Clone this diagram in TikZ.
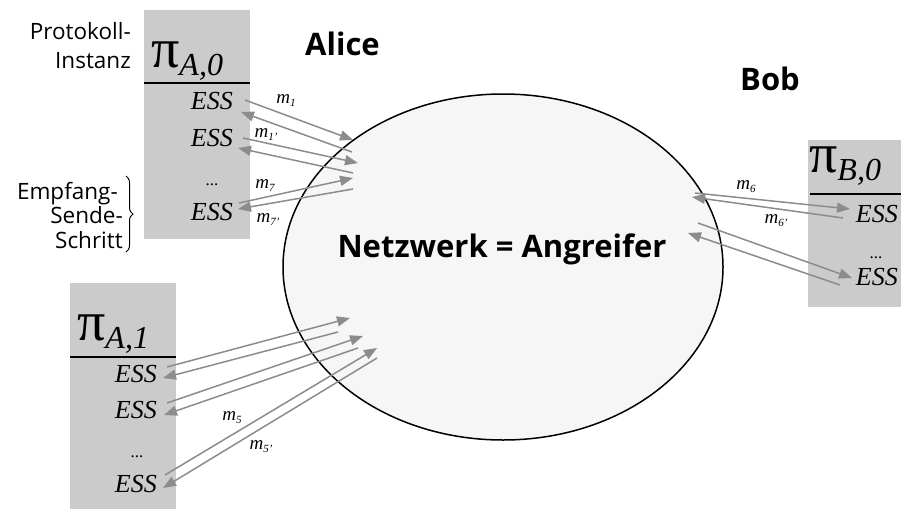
\documentclass[tikz,border=0pt]{standalone}
\usepackage{fontspec}
\setmainfont{Liberation Serif}
\newfontfamily\labelfont{Open Sans}
\usetikzlibrary{arrows.meta,decorations.pathreplacing,shapes.geometric}
\definecolor{boxgray}{HTML}{CBCBCB}
\definecolor{arrgray}{HTML}{8C8C8C}
\definecolor{netfill}{HTML}{F6F6F6}
\tikzset{
  inst/.style={fill=boxgray, draw=none, inner sep=0pt, anchor=north west},
  sepline/.style={line width=1.5pt},
  pilabel/.style={inner sep=0pt, anchor=base west},
  ess/.style={font=\fontsize{26}{26}\selectfont\itshape, inner sep=0pt, anchor=base east},
  essdots/.style={font=\fontsize{17}{17}\selectfont, inner sep=0pt, anchor=base},
  msg/.style={draw=arrgray, line width=1.5pt, -{Triangle[length=13pt,width=10pt]}, fill=arrgray},
  mlab/.style={font=\fontsize{19}{19}\selectfont\itshape, inner sep=0pt, anchor=center},
  side/.style={font=\labelfont\fontsize{22.5}{22.5}\selectfont, inner sep=0pt, anchor=base east},
  party/.style={font=\labelfont\bfseries\fontsize{31}{31}\selectfont, inner sep=0pt, anchor=base west},
}
\newcommand{\PiSub}[1]{{\fontsize{56}{56}\selectfont π}\raisebox{-8pt}{\fontsize{32}{32}\selectfont\itshape #1}}
\newcommand{\MSub}[1]{m{\fontsize{11}{11}\selectfont\raisebox{-3pt}{#1}}}
\begin{document}
\begin{tikzpicture}[x=1pt,y=-1pt]
\useasboundingbox (0,0) rectangle (901,509);

% instance boxes
\node (boxA0) [inst, minimum width=106pt, minimum height=229pt] at (144,10) {};
\node (boxA1) [inst, minimum width=106pt, minimum height=226pt] at (70,283) {};
\node (boxB0) [inst, minimum width=93pt, minimum height=167pt] at (808,140) {};

\draw[sepline] (144,83) -- (250,83);
\draw[sepline] (70,357) -- (176,357);
\draw[sepline] (810,194) -- (901,194);

\node (piA0) [pilabel] at (151,67) {\PiSub{A,0}};
\node (piA1) [pilabel] at (77,340) {\PiSub{A,1}};
\node (piB0) [pilabel] at (809,172) {\PiSub{B,0}};

% ESS entries
\node (ea1) [ess] at (233,109) {ESS};
\node (ea2) [ess] at (233,146) {ESS};
\node (eadots) [essdots] at (212,185) {...};
\node (ea3) [ess] at (233,220) {ESS};

\node (eb1) [ess] at (157,382) {ESS};
\node (eb2) [ess] at (157,418) {ESS};
\node (ebdots) [essdots] at (137,457) {...};
\node (eb3) [ess] at (157,492) {ESS};

\node (ec1) [ess] at (898,222) {ESS};
\node (ecdots) [essdots] at (876,258) {...};
\node (ec3) [ess] at (898,285) {ESS};

% network
\node (net) [ellipse, draw, fill=netfill, line width=1.5pt, minimum width=440pt, minimum height=346pt, inner sep=0pt] at (503,267) {};
\node (nettext) [font=\labelfont\bfseries\fontsize{31}{31}\selectfont, inner sep=0pt, anchor=base] at (502,257) {Netzwerk = Angreifer};

\node (alice) [party] at (305,55) {Alice};
\node (bob) [party] at (740,90) {Bob};

% side labels
\node (prot1) [side] at (131,39) {Protokoll-};
\node (prot2) [side] at (131,68) {Instanz};
\node (ess1) [side] at (118,199) {Empfang-};
\node (ess2) [side] at (123,223) {Sende-};
\node (ess3) [side] at (123,248) {Schritt};
\draw[decorate, decoration={brace, amplitude=7pt}, line width=1pt] (126,176) -- (126,252);

% arrow end points
\coordinate (a1s) at (245,100); \coordinate (a1e) at (353,140);
\coordinate (b1s) at (352,152); \coordinate (b1e) at (241,112);
\coordinate (a2s) at (243,138); \coordinate (a2e) at (358,163);
\coordinate (b2s) at (353,173); \coordinate (b2e) at (238,148);
\coordinate (a3s) at (239,203); \coordinate (a3e) at (353,178);
\coordinate (b3s) at (353,189); \coordinate (b3e) at (238,209);

\coordinate (c1s) at (167,367); \coordinate (c1e) at (350,318);
\coordinate (d1s) at (338,332); \coordinate (d1e) at (163,378);
\coordinate (c2s) at (167,403); \coordinate (c2e) at (363,336);
\coordinate (d2s) at (358,348); \coordinate (d2e) at (164,415);
\coordinate (c3s) at (165,475); \coordinate (c3e) at (377,348);
\coordinate (d3s) at (377,358); \coordinate (d3e) at (163,488);

\coordinate (e1s) at (695,193); \coordinate (e1e) at (850,209);
\coordinate (f1s) at (843,218); \coordinate (f1e) at (692,197);
\coordinate (e2s) at (698,223); \coordinate (e2e) at (852,278);
\coordinate (f2s) at (840,285); \coordinate (f2e) at (688,233);

\foreach \s/\e in {a1s/a1e,b1s/b1e,a2s/a2e,b2s/b2e,a3s/a3e,b3s/b3e,
                   c1s/c1e,d1s/d1e,c2s/c2e,d2s/d2e,c3s/c3e,d3s/d3e,
                   e1s/e1e,f1s/f1e,e2s/e2e,f2s/f2e}
  \draw[msg] (\s) -- (\e);

% message labels
\node (m1) [mlab] at (286,101) {\MSub{1}};
\node (m1p) [mlab] at (266,135) {\MSub{1’}};
\node (m7) [mlab] at (265,186) {\MSub{7}};
\node (m7p) [mlab] at (268,220) {\MSub{7’}};
\node (m5) [mlab] at (232,418) {\MSub{5}};
\node (m5p) [mlab] at (261,447) {\MSub{5’}};
\node (m6) [mlab] at (746,187) {\MSub{6}};
\node (m6p) [mlab] at (776,221) {\MSub{6’}};
\end{tikzpicture}
\end{document}
